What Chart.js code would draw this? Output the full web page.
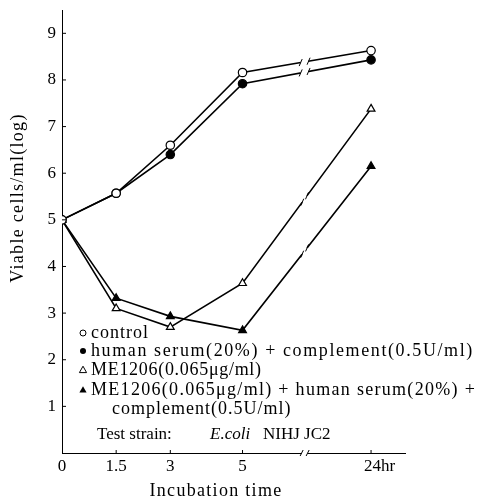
<!DOCTYPE html>
<html><head><meta charset="utf-8">
<script src="https://cdn.jsdelivr.net/npm/chart.js@4/dist/chart.umd.min.js"></script>
<style>html,body{margin:0;padding:0;background:#fff}#wrap{width:482px;height:503px}</style>
</head><body><div id="wrap"><canvas id="c" width="482" height="503"></canvas></div>
<script>
const hours = [0, 1.5, 3, 5, 24];
const timeLabels = ['0', '1.5', '3', '5', '24hr'];
const yTicks = [1, 2, 3, 4, 5, 6, 7, 8, 9];
const controlVals = [5.0, 5.57, 6.6, 8.16, 8.63];
const serumVals = [5.0, 5.57, 6.4, 7.92, 8.43];
const meVals = [5.0, 3.1, 2.7, 3.64, 7.38];
const meSerumVals = [5.0, 3.32, 2.93, 2.63, 6.15];
const legendLabels = [
  'control',
  'human serum(20%) + complement(0.5U/ml)',
  'ME1206(0.065\u03bcg/ml)',
  'ME1206(0.065\u03bcg/ml) + human serum(20%) +',
  'complement(0.5U/ml)'
];

// broken time axis: 0..5 h linear, 5..24 h compressed
const BREAK_AT = 6.72;
function axisPos(h){ return h <= 5 ? h : 5 + (h - 5) * 3.56 / 19; }
const tickPositions = hours.map(axisPos);
const pts = vals => vals.map((v, i) => ({x: axisPos(hours[i]), y: v}));

const FONT = '"Liberation Serif", "DejaVu Serif", serif';

const ds = (label, vals, style, fill) => ({
  label, data: pts(vals), borderColor: '#000', borderWidth: 1.6,
  pointStyle: style, pointRadius: style === 'triangle' ? 4.5 : 4.2,
  pointBackgroundColor: fill ? '#000' : '#fff', pointBorderColor: '#000',
  pointBorderWidth: 1.2, tension: 0, fill: false
});

const decor = {
  id: 'decor',
  afterDatasetsDraw(chart){
    const {ctx, scales:{x, y}, chartArea:a} = chart;
    ctx.save();
    // line breaks
    chart.data.datasets.forEach(d => {
      const p1 = d.data[3], p2 = d.data[4];
      const x1 = x.getPixelForValue(p1.x), y1 = y.getPixelForValue(p1.y);
      const x2 = x.getPixelForValue(p2.x), y2 = y.getPixelForValue(p2.y);
      const bx = x.getPixelForValue(BREAK_AT);
      const t = (bx - x1) / (x2 - x1);
      const by = y1 + t * (y2 - y1);
      const len = Math.hypot(x2 - x1, y2 - y1);
      const ux = (x2 - x1) / len, uy = (y2 - y1) / len;
      const g = 4;
      ctx.strokeStyle = '#fff'; ctx.lineWidth = 5;
      ctx.beginPath(); ctx.moveTo(bx - ux*g, by - uy*g); ctx.lineTo(bx + ux*g, by + uy*g); ctx.stroke();
      ctx.strokeStyle = '#000'; ctx.lineWidth = 1;
      [-g, g].forEach(s => {
        const cx = bx + ux*s, cy = by + uy*s;
        ctx.beginPath(); ctx.moveTo(cx - 1.5, cy + 3.5); ctx.lineTo(cx + 1.5, cy - 3.5); ctx.stroke();
      });
    });
    // tick marks (inside)
    ctx.strokeStyle = '#000'; ctx.lineWidth = 1;
    yTicks.forEach(v => { const py = y.getPixelForValue(v); ctx.beginPath(); ctx.moveTo(a.left, py); ctx.lineTo(a.left + 4, py); ctx.stroke(); });
    tickPositions.slice(1).forEach(v => { const px = x.getPixelForValue(v); ctx.beginPath(); ctx.moveTo(px, a.bottom); ctx.lineTo(px, a.bottom - 3); ctx.stroke(); });
    // x-axis break
    const ax = x.getPixelForValue(BREAK_AT);
    ctx.fillStyle = '#fff'; ctx.fillRect(ax - 3, a.bottom - 2, 6, 4);
    [-3, 3].forEach(s => { ctx.beginPath(); ctx.moveTo(ax + s - 1.5, a.bottom + 3); ctx.lineTo(ax + s + 1.5, a.bottom - 3); ctx.stroke(); });
    // legend
    ctx.fillStyle = '#000';
    ctx.textBaseline = 'middle'; ctx.textAlign = 'left';
    const rows = [333, 351, 370, 390, 409];
    const spacing = [1, 1.6, 0.7, 1.3, 1];
    const sx = 83, tx = 91;
    const sym = (kind, fill, cy) => {
      ctx.beginPath();
      if (kind === 'c') ctx.arc(sx, cy, 3, 0, Math.PI*2);
      else { ctx.moveTo(sx, cy - 3.8); ctx.lineTo(sx + 3.6, cy + 2.6); ctx.lineTo(sx - 3.6, cy + 2.6); ctx.closePath(); }
      if (fill) { ctx.fill(); } else { ctx.lineWidth = 1; ctx.stroke(); }
    };
    sym('c', false, rows[0]); sym('c', true, rows[1]); sym('t', false, rows[2]); sym('t', true, rows[3]);
    ctx.font = '18px ' + FONT;
    legendLabels.forEach((t, i) => { ctx.letterSpacing = spacing[i] + 'px'; ctx.fillText(t, i === 4 ? 112 : tx, rows[i]); });
    ctx.letterSpacing = '0px';
    ctx.font = '17px ' + FONT;
    ctx.fillText('Test strain:', 97, 435);
    ctx.font = 'italic 17px ' + FONT; ctx.fillText('E.coli', 210, 435);
    ctx.font = '17px ' + FONT; ctx.fillText('NIHJ JC2', 263, 435);
    // titles
    ctx.font = '18px ' + FONT; ctx.letterSpacing = '1.3px';
    ctx.textAlign = 'center';
    ctx.fillText('Incubation time', 216, 491);
    ctx.translate(18, 198); ctx.rotate(-Math.PI/2);
    ctx.fillText('Viable cells/ml(log)', 0, 0);
    ctx.restore();
  }
};

new Chart(document.getElementById('c'), {
  type: 'line',
  data: { datasets: [
    ds('control', controlVals, 'circle', false),
    ds('human serum + complement', serumVals, 'circle', true),
    ds('ME1206', meVals, 'triangle', false),
    ds('ME1206 + human serum + complement', meSerumVals, 'triangle', true)
  ]},
  options: {
    responsive: false, animation: false, devicePixelRatio: 1,
    layout: { padding: { left: 0, top: 10, right: 77, bottom: 0 } },
    plugins: { legend: { display: false }, tooltip: { enabled: false } },
    scales: {
      x: {
        type: 'linear', min: 0, max: 9.5,
        afterBuildTicks: s => { s.ticks = tickPositions.map(v => ({value: v})); },
        afterFit: s => { s.height = 50; s.paddingLeft = 0; s.paddingRight = 0; },
        grid: { display: false, drawTicks: false },
        border: { display: true, color: '#000', width: 1 },
        ticks: { color: '#000', padding: 3, maxRotation: 0, font: { family: FONT, size: 17 },
          callback: v => { const i = tickPositions.indexOf(v); return i < 0 ? '' : (i === 4 ? '    ' + timeLabels[i] : timeLabels[i]); } }
      },
      y: {
        min: 0, max: 9.5,
        afterBuildTicks: s => { s.ticks = yTicks.map(v => ({value: v})); },
        afterFit: s => { s.width = 62; s.paddingTop = 0; s.paddingBottom = 0; },
        grid: { display: false, drawTicks: false },
        border: { display: true, color: '#000', width: 1 },
        ticks: { color: '#000', padding: 6, font: { family: FONT, size: 17 } }
      }
    }
  },
  plugins: [decor]
});
</script></body></html>
